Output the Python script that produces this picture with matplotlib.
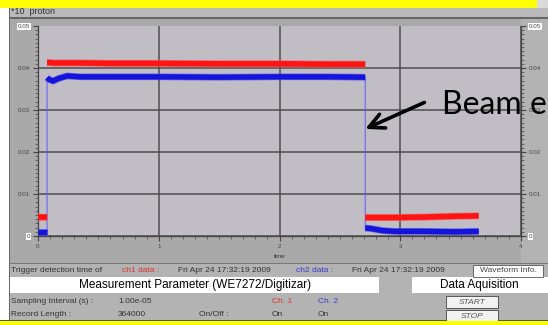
import matplotlib.pyplot as plt
import matplotlib.ticker as ticker
from matplotlib.patches import Rectangle

plt.rcParams['font.family'] = ['Liberation Sans', 'DejaVu Sans']

# trace levels (time in s, signal in V)
pre_t = [0.0, 0.075]
pre_ch1 = [0.0046, 0.0046]
pre_ch2 = [0.0009, 0.0009]

main_t = [0.075, 0.09, 0.125, 0.17, 0.24, 0.35, 0.6, 1.0, 1.5, 2.0, 2.4, 2.71]
main_ch1 = [0.0413, 0.0413, 0.0412, 0.0412, 0.0412, 0.0412, 0.0411, 0.0411, 0.0410, 0.0410, 0.0409, 0.0409]
main_ch2 = [0.0377, 0.0373, 0.0369, 0.0375, 0.0381, 0.0379, 0.0379, 0.0379, 0.0378, 0.0379, 0.0379, 0.0378]

post_t = [2.71, 2.75, 2.85, 2.95, 3.2, 3.45, 3.65]
post_ch1 = [0.0044, 0.0044, 0.0044, 0.0044, 0.0045, 0.0047, 0.0048]
post_ch2 = [0.0019, 0.0018, 0.0013, 0.0011, 0.0011, 0.0010, 0.0011]

y_ticks = [0, 0.01, 0.02, 0.03, 0.04, 0.05]
y_tick_labels = ['0', '0.01', '0.02', '0.03', '0.04', '0.05']
x_ticks = [0, 1, 2, 3, 4]

W, H = 548, 325
fig = plt.figure(figsize=(W / 100, H / 100), dpi=100)
fig.patch.set_facecolor('#aaaaaa')


def box(x0, y0, x1, y1, fc, ec='none', lw=0, z=-5):
    fig.patches.append(Rectangle((x0 / W, 1 - y1 / H), (x1 - x0) / W, (y1 - y0) / H,
                                 transform=fig.transFigure, facecolor=fc,
                                 edgecolor=ec, linewidth=lw, zorder=z))


def txt(x, y, s, **kw):
    kw.setdefault('va', 'center')
    kw.setdefault('fontsize', 6)
    kw.setdefault('color', '#333333')
    fig.text(x / W, 1 - y / H, s, **kw)


# window chrome
box(0, 8, W, 18, '#b9b9b9')
box(9, 18, W, 263, '#a9a9a9')
box(521, 18, W, 263, '#b3b3b3')
box(9, 263, W, 277, '#b3b3b3')
box(9, 277, 379, 293, 'white')
box(379, 277, 412, 293, '#b3b3b3')
box(412, 277, W, 293, 'white')
box(9, 293, W, 321, '#b3b3b3')
box(0, 8, 9, 321, 'white')
box(9, 8, 9.8, 321, '#666666', z=-4)
box(9, 17.5, W, 18.5, '#666666', z=-4)
box(9, 262.5, W, 263.5, '#777777', z=-4)
box(0, 319.5, W, 321, '#555555', z=-4)
box(0, 0, 537, 8, '#ffff00', z=10)
box(537, 0, W, 8, '#d9d9d9', z=10)
box(0, 321, W, H, '#ffff00', z=10)

txt(11, 11, '*10  proton', fontsize=6.5)

# oscilloscope plot
ax = fig.add_axes([38 / W, 1 - 236 / H, 483 / W, 210 / H])
ax.set_facecolor('#c1bdc5')
ax.set_xlim(0, 4)
ax.set_ylim(0, 0.05)

t_all = pre_t + main_t + post_t
ch2_all = pre_ch2 + main_ch2 + post_ch2
ax.plot(t_all, ch2_all, color='#5a5aff', lw=0.7, zorder=2)
for seg_t, seg_v in [(pre_t, pre_ch1), (main_t, main_ch1), (post_t, post_ch1)]:
    ax.plot(seg_t, seg_v, color='#ff5050', lw=5.0, alpha=0.7, solid_capstyle='butt', zorder=3)
    ax.plot(seg_t, seg_v, color='#ff1414', lw=4.0, solid_capstyle='butt', zorder=3)
for seg_t, seg_v in [(pre_t, pre_ch2), (main_t, main_ch2), (post_t, post_ch2)]:
    ax.plot(seg_t, seg_v, color='#3c3cf0', lw=4.8, alpha=0.7, solid_capstyle='butt', zorder=4)
    ax.plot(seg_t, seg_v, color='#1414dc', lw=3.8, solid_capstyle='butt', zorder=4)

ax.set_xticks(x_ticks)
ax.set_yticks(y_ticks)
ax.set_yticklabels(y_tick_labels)
ax.xaxis.set_minor_locator(ticker.MultipleLocator(0.1))
ax.yaxis.set_minor_locator(ticker.MultipleLocator(0.001))
ax.tick_params(which='both', direction='out', colors='#444444', labelcolor='#444444',
               labelsize=4.5, left=True, right=True, labelright=True, pad=2)
ax.tick_params(which='major', length=3.5, width=0.8)
ax.tick_params(which='minor', length=2, width=0.5)
ax.grid(True, which='major', color='#4d4d4d', lw=1.1)
ax.yaxis.get_gridlines()[-1].set_visible(False)
for tk in [ax.yaxis.get_major_ticks()[0], ax.yaxis.get_major_ticks()[-1]]:
    for lab in (tk.label1, tk.label2):
        lab.set_bbox(dict(facecolor='white', edgecolor='none', pad=0.6))
for side in ['left', 'bottom', 'right']:
    ax.spines[side].set_color('#444444')
    ax.spines[side].set_linewidth(0.9)
ax.spines['top'].set_visible(False)

txt(280, 257, 'time', fontsize=4.5, ha='center')

# annotation
ax.annotate('', xy=(2.71, 0.0255), xytext=(3.2, 0.0318), annotation_clip=False,
            arrowprops=dict(arrowstyle='->,head_length=0.9,head_width=0.45',
                            lw=2.6, color='black', mutation_scale=12, shrinkA=0, shrinkB=0),
            zorder=20)
fig.text(442 / W, 1 - 114 / H, 'Beam e', fontsize=23, family='Lato', color='black',
         va='baseline', zorder=20)

# status rows
txt(11, 270.5, 'Trigger detection time of')
txt(122, 270.5, 'ch1 data :', color='#e03030')
txt(178, 270.5, 'Fri Apr 24 17:32:19 2009')
txt(296, 270.5, 'ch2 data :', color='#3a3ad0')
txt(352, 270.5, 'Fri Apr 24 17:32:19 2009')
box(473, 265, 543, 276.5, 'white', ec='#555555', lw=0.6, z=-3)
txt(508, 270.8, 'Waveform Info.', ha='center', color='#444444')

txt(195, 285, 'Measurement Parameter (WE7272/Digitizar)', fontsize=8.5, ha='center', color='black')
txt(479, 285, 'Data Aquisition', fontsize=8.5, ha='center', color='black')

txt(11, 301.5, 'Sampling Interval (s) :')
txt(118, 301.5, '1.00e-05')
txt(272, 301.5, 'Ch. 1', color='#e03030')
txt(318, 301.5, 'Ch. 2', color='#3a3ad0')
txt(11, 315, 'Record Length :')
txt(118, 315, '364000')
txt(199, 315, 'On/Off :')
txt(272, 315, 'On')
txt(318, 315, 'On')
box(446, 296, 498, 308, '#f2f2f2', ec='#444444', lw=0.6, z=-3)
txt(472, 302.2, 'START', ha='center', style='italic', color='#555555')
box(446, 310, 498, 322, '#f2f2f2', ec='#444444', lw=0.6, z=-3)
txt(472, 316, 'STOP', ha='center', style='italic', color='#555555')

fig.savefig('out.png', dpi=100, facecolor=fig.get_facecolor())
